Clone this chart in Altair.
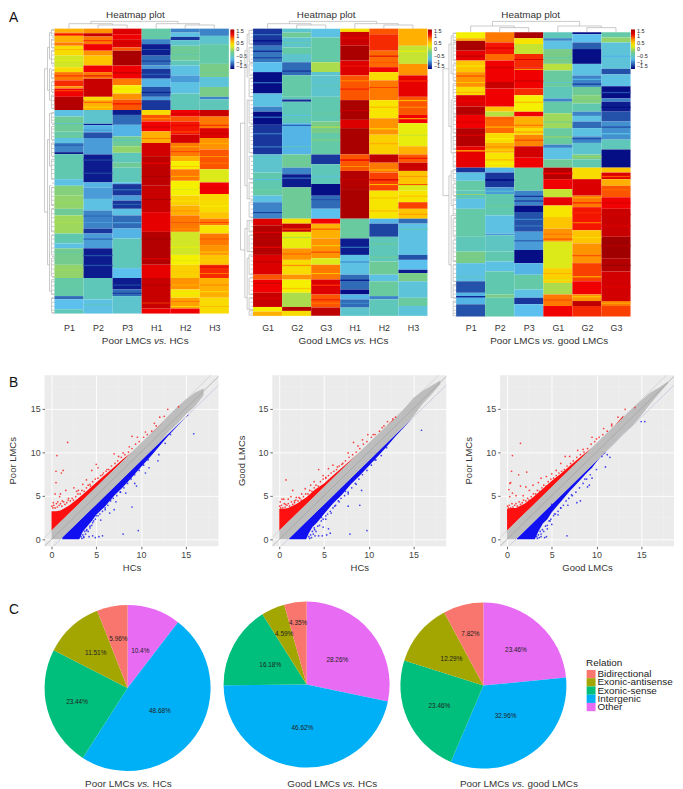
import altair as alt
import pandas as pd

FONT = "Liberation Sans"
STOPS = [-1.5, -1.15, -0.75, -0.45, -0.2, 0.05, 0.3, 0.6, 0.85, 1.1, 1.5]
STOP_COLORS = ["#00007f", "#2a5fb0", "#5bc0ee", "#5fc8ae", "#78cc88", "#b8e040", "#f5f000",
               "#ffb000", "#ff6a00", "#f00000", "#a00000"]
LEGEND_VALUES = [1.5, 1, 0.5, 0, -0.5, -1, -1.5]

# ---- heatmaps: each column is (value, row position where the band ends)
H1_LABELS = ["P1", "P2", "P3", "H1", "H2", "H3"]
H1_TOP = 83
H1_COLS = [
 [(.6,95),(.9,105),(.6,125),(.8,135),(.4,165),(.15,200),(.4,215),(.8,240),(1.0,258),(.7,265),(1.1,290),(1.4,330),
  (-.7,350),(-.3,395),(-.35,415),(-.7,430),(-1,458),(-1.4,464),(-.45,540),(-.7,560),(-.15,590),(-.1,630),(-.3,650),(-.05,705),(-.45,735),(-.7,750),(-.25,800),(-.1,840),(-.4,895),(-1.1,905),(-.75,935),(-.5,948)],
 [(.7,97),(1.3,107),(.8,130),(1.1,150),(.7,165),(.5,195),(1.1,215),(.8,235),(1.3,290),(.4,300),(.6,330),
  (-.6,372),(-1.4,376),(-.8,398),(-1.2,415),(-.9,465),(-1.4,550),(-.8,565),(-.9,600),(-.7,635),(-1,690),(-1.3,705),(-.9,750),(-1.4,840),(-.5,905),(-.7,948)],
 [(1.2,100),(1.1,115),(1.2,140),(.9,150),(1.45,195),(1.1,235),(.8,255),(.3,280),(.7,298),(.9,330),
  (-1.4,345),(-1.1,375),(-.8,410),(-.3,440),(-.1,460),(-.5,490),(-.3,505),(-.5,550),(-.8,555),(-1.3,590),(-.9,605),(-1.3,630),(-.7,650),(-1.1,690),(-.8,720),(-.5,810),(-.75,840),(-1.4,875),(-1.1,895),(-.6,948)],
 [(-.4,115),(-1,130),(-1.4,165),(-1.1,195),(-.9,205),(-1.3,235),(-.8,260),(-1.2,290),(-.9,300),(-1.3,330),
  (.4,345),(.9,365),(1.1,395),(.6,430),(1.25,470),(1.35,560),(1.3,640),(1.15,700),(1.4,800),(1.15,840),(1.3,933),(1.1,948)],
 [(-1,95),(-.7,108),(-1.3,118),(-.6,135),(-.3,180),(-.5,195),(-.7,225),(-.9,245),(-.7,280),(-.5,330),
  (1.1,350),(.9,365),(1.05,405),(1.25,430),(.8,470),(.6,485),(.3,510),(.8,545),(.3,590),(.45,620),(.6,650),(.8,700),(.15,770),(.3,800),(.45,840),(.7,875),(.35,900),(.65,933),(1.1,948)],
 [(-1,105),(-.6,130),(-.4,190),(-.2,230),(-.65,260),(-.2,290),(-1,298),(-.5,330),
  (1.3,350),(.8,385),(1.2,415),(.7,450),(.9,510),(.2,550),(1.1,585),(.4,640),(.5,660),(.8,680),(.35,705),(.8,740),(.7,770),(.5,800),(1,840),(.6,900),(.4,948)],
]
# thin stripes on top of the bands: (column, y0, y1, value)
H1_STRIPES = [
 (0,100,103,1.1),(0,145,148,.6),(0,178,180,.3),(0,225,228,1),(0,270,273,.9),(0,300,303,1.4),(0,370,373,-.6),(0,402,404,-.6),(0,435,438,-1.2),(0,470,473,-.5),(0,610,613,-.05),(0,670,673,0),(0,760,763,-.4),(0,780,783,-.2),(0,815,818,-.05),(0,860,863,-.35),
 (1,118,121,1),(1,170,174,.5),(1,225,228,1.2),(1,305,308,.9),(1,320,323,.4),(1,390,392,-1),(1,480,484,-1.25),(1,520,524,-1.25),(1,650,654,-1.1),(1,670,673,-.9),(1,720,724,-1.1),(1,770,774,-1.2),(1,800,804,-1.2),(1,920,923,-.5),
 (2,125,128,1.3),(2,215,219,1.3),(2,265,268,.4),(2,310,313,1.1),(2,420,424,-.5),(2,520,523,-.55),(2,570,574,-1.1),(2,615,618,-1.1),(2,670,674,-.9),(2,730,733,-.5),(2,860,863,-1.2),(2,885,888,-1.3),
 (3,145,148,-1.2),(3,180,183,-1.3),(3,220,223,-1.1),(3,275,278,-1.4),(3,355,358,.7),(3,380,383,1.3),(3,415,418,.8),(3,490,493,1.1),(3,530,533,1.45),(3,600,603,1.45),(3,720,723,1.5),(3,780,783,1.15),(3,860,863,1.4),(3,915,917,.9),
 (4,160,163,-.45),(4,340,343,1.3),(4,375,378,1.15),(4,395,398,.9),(4,440,443,.6),(4,455,458,.95),(4,500,503,.5),(4,530,533,.6),(4,570,573,.2),(4,605,608,.35),(4,635,638,.7),(4,670,673,.9),(4,690,693,.7),(4,745,748,.25),(4,785,788,.2),(4,820,823,.5),(4,860,863,.6),(4,885,888,.25),(4,910,913,.8),(4,925,928,.4),
 (5,215,218,-.3),(5,375,378,1),(5,400,403,1.3),(5,430,433,.6),(5,470,473,.7),(5,490,493,.8),(5,565,568,1.2),(5,620,623,.3),(5,670,673,.95),(5,720,723,.9),(5,760,763,.45),(5,785,788,.45),(5,805,808,1.2),(5,825,828,.8),(5,860,863,.75),(5,880,883,.4),(5,925,928,.55),
]
H2_LABELS = ["G1", "G2", "G3", "H1", "H2", "H3"]
H2_TOP = 83
H2_COLS = [
 [(-1.3,135),(-1.05,185),(-.75,215),(-1.45,280),(-.7,320),(-1,335),(-1.45,375),(-1.3,465),(-.6,520),(-.45,570),(-.4,590),(-.7,610),(-1,660),
  (1.2,680),(1.4,770),(1.2,830),(.9,845),(1.1,885),(1.3,928),(.3,942),(.6,955)],
 [(-.6,95),(-.3,110),(-.6,140),(-.4,160),(-.6,185),(-1.1,225),(-.4,290),(-.5,298),(-1.35,305),(-.5,370),(-.8,465),(-.3,505),(-1,525),(-1.4,565),(-.3,660),
  (.4,675),(1.3,700),(.25,750),(.7,785),(.4,830),(.7,845),(.3,885),(0,928),(1.4,940),(.4,955)],
 [(-.7,110),(-.4,185),(0,215),(-.6,225),(-.6,290),(-.45,365),(-.2,400),(-.4,465),(-1.3,495),(-.5,555),(-1.45,590),(-1.1,630),(-.75,660),
  (1.1,675),(.6,720),(.7,780),(.2,800),(.8,845),(1.2,890),(.9,930),(1.35,955)],
 [(.4,93),(1.3,135),(1.45,180),(1.2,225),(.9,300),(1.45,360),(1.2,385),(1.45,465),(.9,515),(1.4,570),(1.45,660),
  (-.35,720),(-1.4,770),(-.7,830),(-1.1,875),(-1.45,890),(-.8,905),(-1.1,930),(-.6,955)],
 [(.9,100),(1,150),(.85,200),(1.1,215),(.4,240),(.8,300),(.35,355),(.7,405),(.45,465),(1.35,490),(.8,520),(.95,575),(.35,660),
  (-.8,675),(-1.25,715),(-.5,790),(-.3,830),(-.7,850),(-.35,895),(-1,905),(-.5,955)],
 [(.6,135),(.1,190),(.7,225),(1.15,290),(.9,345),(1.1,370),(.25,440),(.6,465),(.9,490),(1.3,515),(.5,555),(.2,575),(.35,610),(.95,630),(.5,660),
  (-1.1,675),(-.7,770),(-1.2,785),(-.75,815),(-1.4,825),(-.2,850),(-.65,900),(-.35,925),(-.65,955)],
]
H2_STRIPES = [
 (0,100,103,-1),(0,118,122,-1.45),(0,150,153,-1.45),(0,170,173,-1.3),(0,245,249,-1.1),(0,350,354,-1.1),(0,400,404,-1.05),(0,440,444,-1.05),(0,540,543,-.75),(0,615,618,-1),(0,640,643,-1.3),(0,700,703,1.15),(0,745,749,1.15),(0,790,793,1.4),(0,855,858,1.3),(0,900,903,1.15),
 (1,125,128,-.35),(1,210,214,-1.3),(1,345,348,-.7),(1,375,378,-1.2),(1,440,443,-.5),(1,535,539,-1.1),(1,690,693,.9),(1,715,719,.05),(1,765,769,.85),(1,800,804,.7),(1,855,858,.3),(1,870,874,.5),
 (2,255,258,-.45),(2,340,344,-.35),(2,380,384,0),(2,420,423,-.1),(2,530,533,-.7),(2,600,604,-1.2),(2,690,694,.85),(2,740,744,.5),(2,760,764,.9),(2,825,828,.5),(2,860,864,1),(2,905,908,1.1),(2,915,918,.8),
 (3,110,113,1.1),(3,195,198,1.05),(3,240,243,.7),(3,265,268,1.05),(3,330,333,1.3),(3,480,484,1.1),(3,500,503,.7),(3,540,543,1.3),(3,745,749,-1.1),(3,790,793,-1),(3,845,849,-1.4),(3,915,919,-1),
 (4,165,168,1.2),(4,185,188,.9),(4,260,263,.95),(4,320,323,.6),(4,385,389,.45),(4,430,434,.6),(4,510,514,.6),(4,540,544,1.2),(4,555,558,.5),(4,595,599,.5),(4,635,638,.6),(4,735,739,-.35),(4,775,779,-.3),
 (5,150,153,.3),(5,240,244,1),(5,300,303,.5),(5,320,323,.7),(5,355,358,.5),(5,405,408,.1),(5,475,478,1.1),(5,530,533,.7),(5,555,558,.95),(5,590,594,.5),(5,645,648,.7),(5,690,694,-.5),
]
H3_LABELS = ["P1", "P2", "P3", "G1", "G2", "G3"]
H3_TOP = 94
H3_COLS = [
 [(.3,112),(.6,120),(1.45,150),(1.15,180),(.5,215),(.7,260),(.4,285),(1.2,320),(1.4,345),(1.1,385),(1.4,440),(1.15,505),
  (-1.3,520),(-.7,545),(-.4,575),(-.5,600),(-.7,630),(-.4,715),(-.5,760),(-.2,795),(-.7,850),(-1.2,885),(-.8,920),(-1.2,957)],
 [(.8,125),(1.05,160),(.85,180),(1.1,245),(1.3,265),(1.1,320),(.5,335),(.05,350),(.85,400),(.4,430),(.6,460),(.35,505),
  (-.8,520),(-1.3,565),(-.9,585),(-.45,650),(-.7,705),(-.9,710),(-.55,760),(-.45,790),(-.7,820),(-.45,890),(-.2,900),(-.45,957)],
 [(1.45,112),(.35,130),(.1,160),(1,200),(1.1,265),(1,285),(.3,335),(1.1,350),(.6,385),(.4,405),(.75,440),(1.25,475),(1.1,505),
  (-.4,575),(-1,620),(-1.45,640),(-1.2,700),(-.9,755),(-1.45,795),(-.8,830),(-.4,875),(-.7,900),(-1.3,920),(-.75,957)],
 [(-.5,112),(-1,120),(-.7,145),(-.2,190),(.05,210),(-.35,260),(-.5,295),(-1,305),(-.4,340),(-.05,385),(-.35,435),(-1,445),(-.7,480),(-.3,505),
  (1.4,540),(1.1,570),(.1,595),(1.15,620),(.35,655),(.5,690),(.7,730),(.2,810),(.45,855),(0,890),(.8,925),(1.1,957)],
 [(-1.45,100),(-.75,125),(-1.15,145),(-1.45,190),(-.7,225),(-1,260),(-.3,285),(-.15,310),(-.45,335),(-1,348),(-.7,365),(-1.1,385),(-.7,410),(-1,430),(-.6,465),(-.2,480),(-.45,505),
  (.4,540),(1.2,590),(.8,625),(1.05,695),(.5,735),(.7,795),(.95,850),(1.1,890),(.7,910),(1.35,925),(1,957)],
 [(-.4,110),(-.1,125),(-.65,205),(-1.2,222),(-.7,258),(-1.45,295),(-1,305),(-1.4,335),(-1.2,365),(-.95,420),(-.5,450),(-1.45,505),
  (.5,520),(1.2,540),(.6,560),(.9,595),(1.1,630),(1.3,715),(1.5,780),(1.4,820),(1.25,910),(.8,925),(.95,957)],
]
H3_STRIPES = [
 (0,165,168,1.4),(0,195,198,.3),(0,225,229,.9),(0,245,248,.5),(0,275,278,.6),(0,300,304,1.1),(0,365,369,1.2),(0,405,408,1.15),(0,452,456,.6),(0,585,588,-.1),(0,835,838,-.5),(0,895,899,-1.4),
 (1,140,144,1.2),(1,200,203,1.3),(1,355,358,.9),(1,380,384,.6),(1,415,419,.3),(1,440,444,.7),(1,450,453,.35),(1,480,483,.6),(1,490,494,.3),(1,540,545,-1.45),(1,575,578,-.6),(1,620,624,-.3),
 (2,175,178,1.2),(2,205,208,.5),(2,240,244,1.25),(2,305,308,.6),(2,375,378,.85),(2,395,398,.7),(2,420,423,1),(2,590,594,-1.3),(2,605,608,-1.35),(2,660,664,-1),(2,680,684,-1.05),(2,725,729,-1.1),
 (3,170,173,-.45),(3,245,248,-.6),(3,365,368,-.25),(3,410,414,-.1),(3,520,525,1.1),(3,705,709,.8),(3,720,724,.9),(3,825,828,.6),(3,845,848,.2),(3,905,909,.9),
 (4,235,239,-.8),(4,250,253,-1.35),(4,300,303,-.2),(4,415,419,-1.2),(4,470,474,-.1),(4,595,598,.6),(4,610,614,1),(4,640,644,1),(4,670,674,.85),(4,715,719,.4),(4,770,774,.9),(4,835,838,.5),(4,895,899,.5),
 (5,165,169,-.8),(5,275,279,-1.2),(5,320,324,-1.45),(5,380,384,-1.2),(5,400,404,-.7),(5,530,534,.9),(5,570,574,.85),(5,610,614,1.2),(5,645,649,1.25),(5,680,684,1.2),(5,740,744,1.4),(5,800,804,1.5),(5,865,869,1.2),(5,915,918,.6),
]
TOP_H1 = (61, 68, 72)
TOP_H2 = (61, 68, 72)
TOP_H3 = (61, 75, 80)
SIDE_1 = [(10,205,640,7),(7,140,270,5),(5,95,175,3),(5,205,300,3),(3,86,105,0),(3,115,140,0),(3,150,190,0),(3,210,235,0),(3,245,275,0),(3,285,325,0),
          (7,420,800,5),(5,340,500,3),(5,560,880,3),(3,338,370,0),(3,380,420,0),(3,430,470,0),(3,480,540,0),(3,565,620,0),(3,630,700,0),(3,710,770,0),(3,780,835,0),(3,845,890,0),(3,900,945,0)]
SIDE_2 = [(12.7,370,755,8.3),(8.3,150,560,6),(6,100,230,4),(6,300,600,4),(4,88,130,0),(4,140,185,0),(4,190,225,0),(4,235,290,0),(4,300,370,0),(4,380,460,0),(4,470,540,0),(4,550,600,0),(4,610,655,0),
          (8.3,690,900,6),(6,665,760,4),(6,780,935,4),(4,665,700,0),(4,710,760,0),(4,770,830,0),(4,840,890,0),(4,900,935,0),(4,940,953,0)]
SIDE_3 = [(13.3,205,590,7.3),(7.3,130,380,5),(5,105,220,3),(5,300,460,3),(3,97,120,0),(3,125,180,0),(3,190,240,0),(3,250,295,0),(3,305,345,0),(3,350,400,0),(3,410,450,0),(3,460,503,0),
          (7.3,530,800,5),(5,515,620,3),(5,650,900,3),(3,512,545,0),(3,555,590,0),(3,600,650,0),(3,660,715,0),(3,725,790,0),(3,800,850,0),(3,860,900,0),(3,910,955,0)]
LEAF_Y = [88,97,109,118,130,142,151,163,176,187,196,208,221,232,243,256,268,277,289,302,314,325,
          340,352,361,374,388,399,411,423,434,447,459,472,486,498,511,523,538,552,566,579,592,604,
          617,631,645,657,670,684,697,710,722,736,749,761,775,788,800,813,826,838,851,864,877,889,
          902,914,926,938,947]

# ---- scatter panels
S1_RED_X = [0, .5, 1, 1.5, 2, 3, 4, 5, 6, 7, 8, 9, 10, 11, 12, 12.5]
S1_RED_T = [3.2, 3.2, 3.3, 3.6, 3.9, 4.7, 5.6, 6.5, 7.4, 8.3, 9.2, 10, 11, 12, 12.8, 13.4]
S1_BLUE_X = [1.2, 3.1, 3.5, 4, 4.5, 5, 6, 7, 8, 9, 10, 11, 12, 13, 14, 15, 15.3]
S1_BLUE_B = [0, 0, .9, 1.5, 2.1, 2.8, 3.8, 5, 6, 7.1, 8.3, 9.4, 10.6, 11.8, 12.9, 14, 14.2]
S1_GREY_X = [0, 1, 5, 10, 12, 13, 14, 15, 16, 17]
S1_GREY_T = [1, 2, 6, 11, 13, 14.1, 15.1, 16, 16.8, 17.3]
S1_GREY_B = [0, 0, 4, 9, 11, 12.2, 13.2, 14.3, 15.2, 16.5]
S1_RED_PTS = [(1.8,11.1),(.6,9.6),(.5,7.8),(1.3,7.9),(1.1,7.6),(.5,6.5),(5,8.6),(4.5,7.9),(5.2,8.2),(9,11.8),(9.6,11.7),(13,14.9),(14.2,15.2),
              (2.5,5.9),(2.8,5.5),(1.6,5.6),(1,5.2),(.4,5.2),(.9,4.9),(7,9.8),(7.5,9.5),(8,9.9),(11.5,13.3),(12.1,14),(12.6,14.1),(10.5,12.3),
              (3.5,6.3),(3.9,6.8),(4.3,6.3),(6.2,8),(5.7,7.4),(8.7,10.6),(.2,4.2),(.7,4.3),(1.2,4.4),(1.9,4.7),(3,5.6)]
S1_BLUE_PTS = [(15.9,12.1),(9.7,1),(8,.6),(9,3.7),(9.5,6.1),(9.3,6.4),(8.3,5.3),(7.2,4.3),(7,3.4),(6.5,3),(5.7,.4),(5.3,.3),(4.9,.2),(4.6,.4),
               (4.6,1.9),(5.5,2.2),(6,3.4),(4.2,.3),(11.9,9),(12,9.7),(13.3,12),(12.7,11),(10.5,7.6),(10.9,8.2),(10.2,8.6),(7.7,5.4),(6.6,4.6),(8.6,6.9),(5,2.7),
               (3.6,.3),(3.9,1),(4.3,1.3)]
S2_RED_X = [0, .5, 1, 2, 3, 4, 5, 6, 7, 8, 9, 10, 11, 12, 12.8]
S2_RED_T = [3.5, 3.5, 3.6, 4.1, 4.8, 5.7, 6.4, 7.3, 8.2, 9.1, 10, 11, 12, 13, 13.6]
S2_BLUE_X = [1.1, 3, 3.3, 3.7, 4.2, 5, 6, 7, 8, 9, 10, 11, 12, 13, 14, 14.9]
S2_BLUE_B = [0, 0, .7, 1.4, 1.9, 2.9, 4.1, 5.1, 6.3, 7.3, 8.4, 9.5, 10.6, 11.8, 12.9, 13.9]
S2_GREY_X = [0, 1, 5, 10, 12, 13, 14, 15, 16, 17, 18]
S2_GREY_T = [1, 2, 6, 11, 13, 13.9, 15, 16.2, 17, 17.6, 18.2]
S2_GREY_B = [0, 0, 4, 9, 11, 12, 13, 14.1, 15.5, 16.6, 17.8]
S2_RED_PTS = [(.75,6.8),(1.5,5.6),(.1,4.3),(.3,4.6),(.5,4.6),(1,4.6),(1.3,4.9),(1.9,4.8),(2.5,5.2),(2.9,5.8),(3.5,6.2),(4.4,8),(4.9,7.3),(5.2,7.1),(5.5,8.1),
              (6,8.5),(6.5,8.3),(7,8.6),(7.7,9.9),(8.3,11.1),(8.8,10.7),(9.3,11.4),(9.9,12),(10.5,12),(11.5,12.8),(12.1,13.5),(12.7,13.8),(13,14),(3.9,6.6),(.7,4),(1.7,4.4),(2.2,4.8)]
S2_BLUE_PTS = [(9.8,1),(7.9,.6),(9,3.9),(7.7,3.8),(9.2,5.6),(8.6,6.3),(7.7,5.2),(7.4,5.5),(6.7,4.3),(5.8,3),(5.2,2.3),(5.7,.7),(5.5,1.2),(5.3,.5),(4.8,.4),(4.4,.4),(4,.4),
               (15.9,12.5),(6.2,3.8),(4.9,1.4),(4.7,2.5),(3.9,1.3),(10.7,9.1),(11.4,9.6),(12,10.5)]
S3_RED_X = [0, .5, 1, 2, 3, 4, 5, 6, 7, 7.8, 8.5, 9.5, 10.5, 11, 12, 13]
S3_RED_T = [3.5, 3.6, 3.6, 4.1, 4.9, 5.8, 6.7, 7.5, 8.4, 9.1, 9.7, 10.5, 11.5, 12, 13, 14.2]
S3_BLUE_X = [1.1, 3.1, 3.5, 4, 4.5, 5, 6, 7, 8, 9, 9.5, 10, 10.5, 11]
S3_BLUE_B = [0, 0, .9, 1.8, 2.3, 3.1, 4.3, 5.5, 6.6, 7.7, 8.2, 8.9, 9.5, 9.9]
S3_GREY_X = [0, 1, 5, 10, 12, 13, 14, 15, 16, 17, 18]
S3_GREY_T = [1, 2, 6, 11, 13, 14, 15, 15.9, 16.8, 17.4, 18.1]
S3_GREY_B = [0, 0, 4, 9, 11, 12.1, 13, 14.2, 15.5, 16.7, 17.9]
S3_RED_PTS = [(1.5,11),(.6,9.6),(.5,7.8),(1.3,7.4),(2.2,7.7),(.3,6.4),(.4,6.5),(1.5,6.1),(2.1,6),(.2,5.7),(.6,5.3),(1,5),(.3,4.9),(2.5,5.6),(3.5,6.5),(3.8,7),(4.4,7.2),
              (5,7.5),(5.5,7.9),(6,8.7),(6.5,9.5),(7,9.5),(7.9,10.2),(8.5,10.3),(9.5,11.7),(10,11.5),(10.8,12.7),(11.7,13.2),(12.4,14),(13.2,14.9),(14.3,15.1),(2.9,6.2),(1.8,5)]
S3_BLUE_PTS = [(6.7,.4),(5,4),(5.7,2.8),(4.5,1.2),(4.4,.3),(4.2,.2),(3.8,.3),(5,1.7),(5.3,2.9),(6,3.6),(6.8,3.9),(7.8,4.2),(7.2,5.1),(8.2,4.4),(9,6),(9.2,6.2),(9.5,7),(8.7,6.9),
               (10,8),(10.6,9.5),(11,8.3),(11.5,9.4),(11.2,9.7),(15,13.5),(15.4,13.5),(4.8,2.1)]
RED_EDGE = [(.05,3.8),(.15,3.6),(.25,3.9),(.4,3.6),(.55,4.1),(.65,3.7),(.85,3.9),(1,4.1),(1.15,3.8),(1.35,4.3),(1.5,4),(1.7,4.2),(1.85,4.5),(2.1,4.4),(2.3,4.7),(2.45,4.5),
            (2.7,4.9),(2.95,5.2),(3.2,5.2),(3.4,5.6),(3.65,5.5),(3.9,5.9),(4.1,6.2),(4.35,6.1),(4.6,6.6),(4.9,6.9),(5.2,7),(5.5,7.3),(5.8,7.6),(6.1,7.8),(6.4,8),(6.7,8.4),
            (7.1,8.7),(7.4,9),(7.8,9.4),(8.2,9.7),(8.6,10),(9,10.4),(9.4,10.9),(9.8,11.2),(10.3,11.7),(10.7,12),(11.2,12.4),(11.7,13)]
BLUE_EDGE = [(3.3,.3),(3.4,.1),(3.5,.5),(3.6,.2),(3.7,.9),(3.8,.6),(3.95,1.1),(4.1,.9),(4.3,1.5),(4.5,1.6),(4.7,2.1),(4.9,2.3),(5.2,2.7),(5.4,2.9),(5.7,3.2),(6,3.6),(6.3,3.9),
             (6.6,4.4),(6.9,4.7),(7.3,5),(7.7,5.4),(8.1,5.9),(8.5,6.4),(8.9,6.9),(9.3,7.4),(9.8,7.9),(10.3,8.5),(10.8,9.1)]
DIAG_X = [-.8, 18.8]
TICKS = [0, 5, 10, 15]
MINOR = [2.5, 7.5, 12.5, 17.5]

# ---- pies
REL_ORDER = ["Other", "Intergenic", "Exonic-sense", "Exonic-antisense", "Bidirectional"]
REL_LEGEND = ["Bidirectional", "Exonic-antisense", "Exonic-sense", "Intergenic", "Other"]
REL_COLORS = ["#F8766D", "#A3A500", "#00BF7D", "#00B0F6", "#E76BF3"]
PIE1 = [10.4, 48.68, 23.44, 11.51, 5.96]
PIE2 = [28.26, 46.62, 16.18, 4.59, 4.35]
PIE3 = [23.46, 32.96, 23.46, 12.29, 7.82]
PIE1_LABEL_R = [40, 40, 53, 48, 50]
PIE2_LABEL_R = [40, 44, 42, 56, 63]
PIE3_LABEL_R = [49, 38, 49, 42, 54]

ONE = pd.DataFrame({"a": [0]})


def label(txt, x, y, size=10, style="normal", align="left", color="#333", baseline="alphabetic"):
    return alt.Chart(ONE).mark_text(text=txt, fontSize=size, fontStyle=style, align=align, baseline=baseline,
                                    color=color, font=FONT).encode(x=alt.value(x), y=alt.value(y))


def caption(first, last, w_first, x, y, size=10):
    g = 2.78 * size / 10
    k = size / 10
    return [label(first, x, y, size),
            label("vs.", x + w_first * k + g, y, size, style="italic"),
            label(last, x + (w_first + 12.78) * k + 2 * g, y, size)]


def spacer(letter, w, h, y):
    return label(letter, 0, y, 14, color="#111").properties(width=w, height=h)


def heat_panel(cols, stripes, labels, top, x_start, width, tops, side, title_x, legend_x, cap):
    recs = []
    for i, col in enumerate(cols):
        y0 = top
        for v, y1 in col:
            recs.append(dict(x=i, x2=i + 1, y=y0, y2=y1, v=v))
            y0 = y1
    for c, y0, y1, v in stripes:
        recs.append(dict(x=c, x2=c + 1, y=y0, y2=y1, v=v))
    df = pd.DataFrame(recs)
    cw = 176.5 / 6
    dom_x = [x_start, x_start + width / cw]
    xs = alt.Scale(domain=dom_x, nice=False, zero=False)
    ys = alt.Scale(domain=[961.5, 82.5], nice=False, zero=False)
    X = alt.X("x:Q", scale=xs, title=None,
              axis=alt.Axis(values=[.5, 1.5, 2.5, 3.5, 4.5, 5.5], grid=False, domain=False, ticks=False,
                            labelFontSize=9, labelPadding=5.5, labelColor="#333",
                            labelExpr="%s[floor(datum.value)]" % str(labels)))
    Y = alt.Y("y:Q", scale=ys, axis=None)
    rect = alt.Chart(df).mark_rect(strokeWidth=0).encode(
        x=X, x2="x2:Q", y=Y, y2="y2:Q",
        color=alt.Color("v:Q", scale=alt.Scale(domain=STOPS, range=STOP_COLORS, interpolate="rgb"),
                        legend=alt.Legend(orient="none", legendX=legend_x, legendY=1, title=None, direction="vertical",
                                          gradientLength=40, gradientThickness=4, gradientStrokeWidth=0,
                                          values=LEGEND_VALUES, format=".1~f", labelFontSize=5.5, labelOffset=2,
                                          labelOverlap=False, labelColor="#222", padding=0)))
    seg = []
    root, ml, mr = tops
    seg.append((1.25, root, 4.25, root))
    seg.append((1.25, root, 1.25, ml))
    seg.append((4.25, root, 4.25, ml))
    for l, r in [(.5, 2), (3.5, 5)]:
        seg.append((l, ml, r, ml))
        seg.append((l, ml, l, top))
    for c, l, r in [(2, 1.5, 2.5), (5, 4.5, 5.5)]:
        seg.append((c, ml, c, mr))
        seg.append((l, mr, r, mr))
        seg.append((l, mr, l, top))
        seg.append((r, mr, r, top))
    for xo, y0, y1, xe in side:
        seg.append((-xo / cw, y0, -xo / cw, y1))
        seg.append((-xo / cw, y0, -xe / cw, y0))
        seg.append((-xo / cw, y1, -xe / cw, y1))
    for ly in LEAF_Y:
        if top < ly:
            seg.append((-2.5 / cw, ly, 0, ly))
    sd = pd.DataFrame(seg, columns=["x", "y", "x2", "y2"])
    dend = alt.Chart(sd).mark_rule(color="#b2b2b2", strokeWidth=.7).encode(x=X, x2="x2:Q", y=Y, y2="y2:Q")
    ttl = label("Heatmap plot", title_x, -10.5, 10, align="center")
    return alt.layer(rect, dend, ttl, *cap).properties(width=width, height=293)


def scatter_panel(rx, rt, bx, bb, gx, gt, gb, rpts, bpts, xtitle, ytitle, width, ytx, bmax=99):
    xs = alt.Scale(domain=[-.78, -.78 + width / 9.05], nice=False, zero=False)
    ys = alt.Scale(domain=[-.8, 18.8], nice=False, zero=False)
    X = alt.X("x:Q", scale=xs, title=xtitle,
              axis=alt.Axis(values=TICKS, grid=True, gridColor="#ffffff", gridWidth=.9, domain=False, tickColor="#666",
                            tickSize=2.5, labelFontSize=9, labelPadding=2, labelColor="#444", titleFontSize=9.6,
                            titleColor="#333", titleFontWeight="normal", titlePadding=3))
    Y = alt.Y("y:Q", scale=ys, title=ytitle,
              axis=alt.Axis(values=TICKS, grid=True, gridColor="#ffffff", gridWidth=.9, domain=False, tickColor="#666",
                            tickSize=2.5, labelFontSize=9, labelPadding=2, labelColor="#444", titleFontSize=9.6,
                            titleColor="#333", titleFontWeight="normal", titleX=ytx, titleY=86))
    minor_x = alt.Chart(pd.DataFrame({"x": MINOR})).mark_rule(color="#f3f3f3", strokeWidth=.5).encode(x=X)
    minor_y = alt.Chart(pd.DataFrame({"y": MINOR})).mark_rule(color="#f3f3f3", strokeWidth=.5).encode(y=Y)
    d_u = pd.DataFrame({"x": DIAG_X, "y": [v + 1 for v in DIAG_X]})
    d_l = pd.DataFrame({"x": DIAG_X, "y": [v - 1 for v in DIAG_X]})
    d_m = pd.DataFrame({"x": DIAG_X, "y": DIAG_X})
    line_u = alt.Chart(d_u).mark_line(color="#cfcfcf", strokeWidth=.8, clip=True).encode(x=X, y=Y)
    line_l = alt.Chart(d_l).mark_line(color="#c3c6dc", strokeWidth=.8, clip=True).encode(x=X, y=Y)
    red_df = pd.DataFrame({"x": rx, "y": rt, "y2": [v + 1 for v in rx]})
    blue_df = pd.DataFrame({"x": bx, "y": bb, "y2": [v - 1 for v in bx]})
    grey_df = pd.DataFrame({"x": gx, "y": gt, "y2": gb})
    red = alt.Chart(red_df).mark_area(color="#ff1010", interpolate="linear").encode(x=X, y=Y, y2="y2:Q")
    blue = alt.Chart(blue_df).mark_area(color="#1010f0", interpolate="linear").encode(x=X, y=Y, y2="y2:Q")
    grey = alt.Chart(grey_df).mark_area(color="#bdbdbd", interpolate="linear").encode(x=X, y=Y, y2="y2:Q")
    all_red = rpts + RED_EDGE
    all_blue = bpts + [p for p in BLUE_EDGE if p[0] <= bmax]
    rp = alt.Chart(pd.DataFrame(all_red, columns=["x", "y"])).mark_circle(color="#ff2020", size=3, opacity=.85).encode(x=X, y=Y)
    bp = alt.Chart(pd.DataFrame(all_blue, columns=["x", "y"])).mark_circle(color="#2020f0", size=3, opacity=.85).encode(x=X, y=Y)
    mid = alt.Chart(d_m).mark_line(color="#a2a2a2", strokeWidth=.7, clip=True).encode(x=X, y=Y)
    return alt.layer(minor_x, minor_y, line_u, line_l, red, blue, grey, rp, bp, mid).properties(
        width=width, height=173, view=alt.ViewBackground(fill="#ebebeb", stroke=None))


def pie_panel(vals, radii, cx, cy, cap, with_legend=False):
    mids, run = [], 0
    for v in vals:
        mids.append(run + v / 2)
        run += v
    df = pd.DataFrame({"rel": REL_ORDER, "v": vals, "ord": range(5), "r": radii, "mid": mids,
                       "txt": [f"{v:g}%" for v in vals]})
    color = alt.Color("rel:N", scale=alt.Scale(domain=REL_LEGEND, range=REL_COLORS), legend=None)
    arc = alt.Chart(df).mark_arc(outerRadius=84, strokeWidth=0).encode(
        theta=alt.Theta("v:Q", stack=True), order=alt.Order("ord:Q"),
        x=alt.value(cx), y=alt.value(cy), color=color)
    txt = alt.Chart(df).mark_text(fontSize=6.5, color="#222", font=FONT).encode(
        theta=alt.Theta("mid:Q", stack=None), radius=alt.Radius("r:Q", scale=None),
        x=alt.value(cx), y=alt.value(cy), text="txt:N")
    lay = [arc, txt] + cap
    if with_legend:
        ldf = pd.DataFrame({"rel": REL_LEGEND})
        ly = alt.Y("rel:N", sort=REL_LEGEND, axis=None,
                   scale=alt.Scale(domain=REL_LEGEND, range=[65.7, 107.4], paddingInner=0, paddingOuter=0))
        swatch = alt.Chart(ldf).mark_rect(strokeWidth=0).encode(x=alt.value(190.6), x2=alt.value(199.6), y=ly, color=color)
        names = alt.Chart(ldf).mark_text(align="left", baseline="middle", fontSize=10, color="#222", font=FONT).encode(
            x=alt.value(201.6), y=ly, text="rel:N")
        lay += [swatch, names, label("Relation", 190, 62, 10, color="#222")]
    return alt.layer(*lay).properties(width=172, height=170)


def indep(c):
    return c.resolve_scale(color="independent").resolve_legend(color="independent")


row_a = alt.hconcat(
    spacer("A", 46, 293, -6.5),
    indep(alt.hconcat(
        heat_panel(H1_COLS, H1_STRIPES, H1_LABELS, H1_TOP, 0, 176.5, TOP_H1, SIDE_1, 82, 178,
                   caption("Poor LMCs", "HCs", 50, 48, 319)),
        heat_panel(H2_COLS, H2_STRIPES, H2_LABELS, H2_TOP, 0, 176.5, TOP_H2, SIDE_2, 74, 177,
                   caption("Good LMCs", "HCs", 53.35, 46, 319)),
        heat_panel(H3_COLS, H3_STRIPES, H3_LABELS, H3_TOP, -4.5 * 6 / 176.5, 181, TOP_H3, SIDE_3, 80, 181.5,
                   caption("Poor LMCs", "good LMCs", 50, 39, 319)),
        spacing=24, bounds="flush")),
    spacing=0, bounds="flush")

row_b = alt.hconcat(
    spacer("B", 36, 173, 12),
    alt.hconcat(
        scatter_panel(S1_RED_X, S1_RED_T, S1_BLUE_X, S1_BLUE_B, S1_GREY_X, S1_GREY_T, S1_GREY_B, S1_RED_PTS, S1_BLUE_PTS,
                      "HCs", "Poor LMCs", 176, -27),
        scatter_panel(S2_RED_X, S2_RED_T, S2_BLUE_X, S2_BLUE_B, S2_GREY_X, S2_GREY_T, S2_GREY_B, S2_RED_PTS, S2_BLUE_PTS,
                      "HCs", "Good LMCs", 176, -26.5),
        scatter_panel(S3_RED_X, S3_RED_T, S3_BLUE_X, S3_BLUE_B, S3_GREY_X, S3_GREY_T, S3_GREY_B, S3_RED_PTS, S3_BLUE_PTS,
                      "Good LMCs", "Poor LMCs", 176, -27, bmax=9.5),
        spacing=54.5, bounds="flush"),
    spacing=0, bounds="flush")

row_c = alt.hconcat(
    spacer("C", 33.4, 170, 9.5),
    indep(alt.hconcat(
        pie_panel(PIE1, PIE1_LABEL_R, 86, 84, caption("Poor LMCs", "HCs", 50, 43, 184.5)),
        pie_panel(PIE2, PIE2_LABEL_R, 87.2, 80.5, caption("Good LMCs", "HCs", 53.35, 67.6, 184.5)),
        pie_panel(PIE3, PIE3_LABEL_R, 86.1, 81.5, caption("Poor LMCs", "good LMCs", 50, 62.3, 184.5), True),
        spacing=8, bounds="flush")),
    spacing=0, bounds="flush")

chart = indep(alt.vconcat(indep(row_a), indep(alt.vconcat(row_b, indep(row_c), spacing=28.5)), spacing=29)).properties(
    padding={"top": -3, "left": 0, "right": 0, "bottom": 0}).configure(font=FONT).configure_view(stroke=None)
chart.save("out.html", embed_options={"renderer": "svg", "actions": False})
